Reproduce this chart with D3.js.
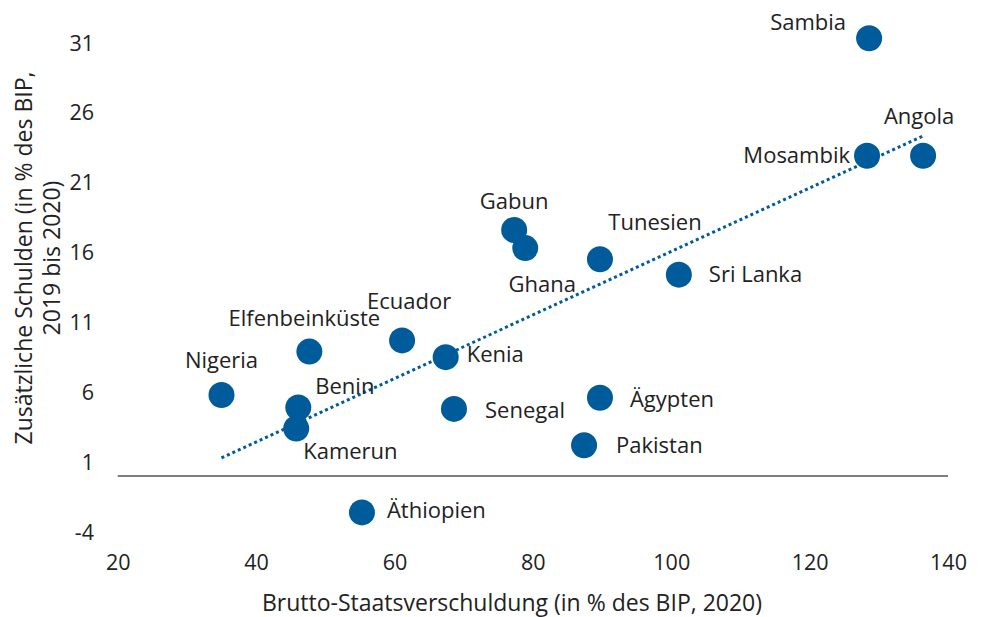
<!DOCTYPE html>
<html>
<head>
<meta charset="utf-8">
<script src="https://cdn.jsdelivr.net/npm/d3@7"></script>
<style>
  body { margin: 0; background: #fff; }
  svg text { font-family: "Open Sans", sans-serif; fill: #222; }
</style>
</head>
<body>
<div class="chart"></div>
<script>
// values
var countries = ['Sambia', 'Angola', 'Mosambik', 'Gabun', 'Ghana', 'Tunesien', 'Sri Lanka',
    'Ecuador', 'Elfenbeinküste', 'Kenia', 'Nigeria', 'Benin', 'Kamerun', 'Senegal',
    'Ägypten', 'Pakistan', 'Äthiopien'];
var grossDebt = [128.6, 136.4, 128.3, 77.3, 78.9, 89.7, 101.1,
    61.1, 47.7, 67.4, 35.0, 46.1, 45.8, 68.6,
    89.7, 87.4, 55.3];
var addedDebt = [31.3, 22.9, 22.9, 17.6, 16.3, 15.5, 14.4,
    9.7, 8.9, 8.5, 5.8, 4.9, 3.4, 4.8,
    5.6, 2.2, -2.6];
var trendX = [35.0, 136.3];
var trendY = [1.3, 24.3];
var xTicks = [20, 40, 60, 80, 100, 120, 140];
var yTicks = [-4, 1, 6, 11, 16, 21, 26, 31];

// label placement (px offset from the dot, text anchor)
var labelPos = {
    'Sambia': [-23, -16, 'end'],
    'Angola': [-4, -39, 'middle'],
    'Mosambik': [-17, 0, 'end'],
    'Gabun': [0, -29, 'middle'],
    'Ghana': [17, 36, 'middle'],
    'Tunesien': [55, -37, 'middle'],
    'Sri Lanka': [30, 0, 'start'],
    'Ecuador': [7, -39, 'middle'],
    'Elfenbeinküste': [-5, -33, 'middle'],
    'Kenia': [21, -3, 'start'],
    'Nigeria': [0, -35, 'middle'],
    'Benin': [17, -21, 'start'],
    'Kamerun': [7, 23, 'start'],
    'Senegal': [31, 1, 'start'],
    'Ägypten': [30, 2, 'start'],
    'Pakistan': [32, 0, 'start'],
    'Äthiopien': [25, -2, 'start']
};

var width = 985, height = 617;
var blue = '#005b9b';
var font = '"Open Sans", sans-serif';

var svg = d3.select('div.chart')
    .append('svg')
        .attr('width', width)
        .attr('height', height);

var x = d3.scaleLinear()
    .domain([20, 140])
    .range([117.7, 948]);

var y = d3.scaleLinear()
    .domain([-4, 31])
    .range([532, 42.5]);

// tick labels only, no axis lines
svg.append('g')
    .attr('transform', 'translate(0,562)')
    .call(d3.axisBottom(x).tickValues(xTicks).tickSize(0).tickPadding(0))
    .call((g) => g.select('.domain').remove())
    .selectAll('text')
        .attr('dy', '0.35em')
        .style('font-size', '21.5px')
        .style('font-family', font)
        .style('fill', '#222');

svg.append('g')
    .attr('transform', 'translate(94,0)')
    .call(d3.axisLeft(y).tickValues(yTicks).tickFormat((d) => String(d)).tickSize(0).tickPadding(0))
    .call((g) => g.select('.domain').remove())
    .selectAll('text')
        .attr('dy', '0.35em')
        .style('font-size', '21.5px')
        .style('font-family', font)
        .style('fill', '#222');

// horizontal line at 0
svg.append('line')
    .attr('x1', x(20))
    .attr('x2', x(140))
    .attr('y1', y(0))
    .attr('y2', y(0))
    .attr('stroke', '#555')
    .attr('stroke-width', 1.5);

// axis titles
svg.append('text')
    .attr('x', 512)
    .attr('y', 603)
    .attr('dy', '0.35em')
    .attr('text-anchor', 'middle')
    .style('font-size', '23px')
    .text('Brutto-Staatsverschuldung (in % des BIP, 2020)');

var yTitle = svg.append('text')
    .attr('transform', 'translate(24,258) rotate(-90)')
    .attr('text-anchor', 'middle')
    .style('font-size', '23px');
yTitle.append('tspan')
    .attr('x', 0)
    .attr('dy', '0.35em')
    .text('Zusätzliche Schulden (in % des BIP,');
yTitle.append('tspan')
    .attr('x', 0)
    .attr('dy', '1.2em')
    .text('2019 bis 2020)');

// trend line
svg.append('line')
    .attr('x1', x(trendX[0]))
    .attr('y1', y(trendY[0]))
    .attr('x2', x(trendX[1]))
    .attr('y2', y(trendY[1]))
    .attr('stroke', blue)
    .attr('stroke-width', 3)
    .attr('stroke-dasharray', '3,3');

var data = countries.map((c, i) => ({name: c, x: grossDebt[i], y: addedDebt[i]}));

svg.selectAll('.dot')
    .data(data)
    .enter()
    .append('circle')
        .attr('class', 'dot')
        .attr('cx', (d) => x(d.x))
        .attr('cy', (d) => y(d.y))
        .attr('r', 13)
        .attr('fill', blue);

svg.selectAll('.label')
    .data(data)
    .enter()
    .append('text')
        .attr('class', 'label')
        .attr('x', (d) => x(d.x) + labelPos[d.name][0])
        .attr('y', (d) => y(d.y) + labelPos[d.name][1])
        .attr('dy', '0.35em')
        .attr('text-anchor', (d) => labelPos[d.name][2])
        .style('font-size', '22px')
        .text((d) => d.name);
</script>
</body>
</html>
